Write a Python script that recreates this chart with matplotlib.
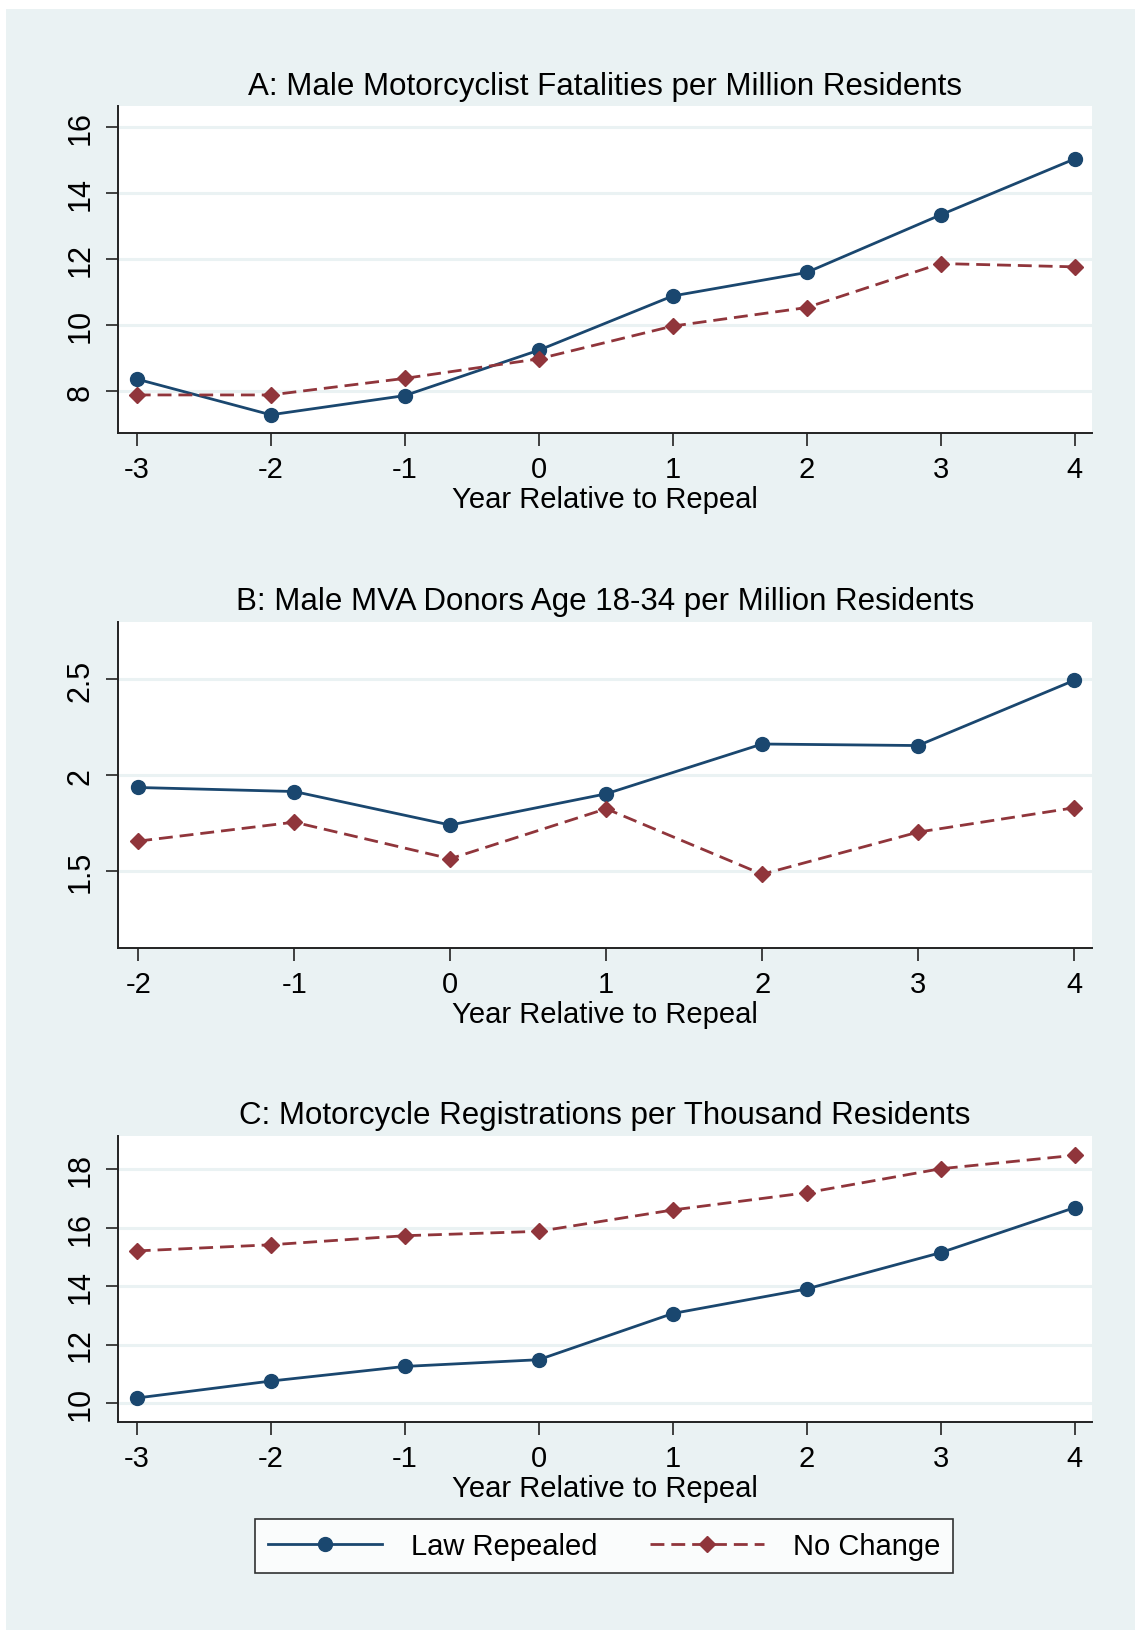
import matplotlib
matplotlib.use("Agg")
import matplotlib.pyplot as plt
from matplotlib.patches import Rectangle
from matplotlib.lines import Line2D

plt.rcParams['font.family'] = ['Liberation Sans', 'DejaVu Sans']

# ---- data ----
years_a = [-3, -2, -1, 0, 1, 2, 3, 4]
repealed_a = [8.37, 7.29, 7.87, 9.24, 10.88, 11.59, 13.33, 15.02]
nochange_a = [7.89, 7.89, 8.39, 8.98, 9.97, 10.53, 11.86, 11.76]

years_b = [-2, -1, 0, 1, 2, 3, 4]
repealed_b = [1.936, 1.915, 1.74, 1.903, 2.163, 2.155, 2.495]
nochange_b = [1.656, 1.755, 1.564, 1.825, 1.483, 1.703, 1.83]

years_c = [-3, -2, -1, 0, 1, 2, 3, 4]
repealed_c = [10.17, 10.75, 11.25, 11.48, 13.06, 13.90, 15.14, 16.68]
nochange_c = [15.20, 15.41, 15.72, 15.87, 16.60, 17.19, 18.01, 18.47]

titles = ["A: Male Motorcyclist Fatalities per Million Residents",
          "B: Male MVA Donors Age 18-34 per Million Residents",
          "C: Motorcycle Registrations per Thousand Residents"]
yticks_a = [8, 10, 12, 14, 16]
yticks_b = [1.5, 2, 2.5]
yticks_c = [10, 12, 14, 16, 18]
ytl_b = ["1.5", "2", "2.5"]
xlabel = "Year Relative to Repeal"
series_labels = ["Law Repealed", "No Change"]

NAVY = "#1a476f"
MAROON = "#90353b"
BG = "#eaf2f3"

W, H = 1135, 1631
fig = plt.figure(figsize=(W / 100, H / 100), dpi=100, facecolor="white")
fig.patches.append(Rectangle((6 / W, 0), 1 - 6 / W, 1 - 10 / H, transform=fig.transFigure,
                             facecolor=BG, edgecolor="none", zorder=-10))

def fr(left, top, right, bottom):
    return [left / W, 1 - bottom / H, (right - left) / W, (bottom - top) / H]

axes_rects = [fr(118, 107, 1092, 434), fr(118, 623, 1092, 949), fr(118, 1137, 1092, 1423)]
datasets = [
    (years_a, repealed_a, nochange_a, yticks_a, [str(t) for t in yticks_a], (6.74, 16.62), (-3.14, 4.13)),
    (years_b, repealed_b, nochange_b, yticks_b, ytl_b, (1.098, 2.80), (-2.13, 4.115)),
    (years_c, repealed_c, nochange_c, yticks_c, [str(t) for t in yticks_c], (9.35, 19.13), (-3.14, 4.13)),
]

FS_T = 22.5
FS = 21
LW = 2.0
DASH = (0, (5, 2.5))
for rect, title, (xs, rep, noc, yt, ytl, ylim, xlim) in zip(axes_rects, titles, datasets):
    ax = fig.add_axes(rect)
    ax.set_facecolor("white")
    ax.plot(xs, rep, color=NAVY, lw=LW, marker="o", ms=10, zorder=3)
    ax.plot(xs, noc, color=MAROON, lw=LW, ls=DASH, marker="D", ms=8.5, zorder=3)
    ax.set_xlim(*xlim)
    ax.set_ylim(*ylim)
    ax.set_xticks(xs)
    ax.set_xticklabels([str(x) for x in xs], fontsize=FS)
    ax.set_yticks(yt)
    ax.set_yticklabels(ytl, fontsize=22, rotation=90, va="center")
    ax.tick_params(axis="both", length=9, width=1.2, color="#222222", direction="out")
    ax.tick_params(axis="x", pad=7)
    ax.tick_params(axis="y", pad=7)
    for s in ["top", "right"]:
        ax.spines[s].set_visible(False)
    for s in ["left", "bottom"]:
        ax.spines[s].set_linewidth(1.4)
        ax.spines[s].set_color("#222222")
    ax.yaxis.grid(True, color=BG, lw=2.2, zorder=0)
    ax.set_axisbelow(True)
    ax.set_title(title, fontsize=FS_T, pad=9)
    ax.set_xlabel(xlabel, fontsize=FS, labelpad=1)

handles = [Line2D([], [], color=NAVY, lw=LW, marker="o", ms=10),
           Line2D([], [], color=MAROON, lw=LW, ls=DASH, marker="D", ms=8.5)]
leg = fig.legend(handles, series_labels, loc="center", ncol=2,
                 bbox_to_anchor=(604 / W, 1 - 1547 / H), fontsize=FS,
                 handlelength=3.9, handletextpad=1.0, columnspacing=1.8,
                 frameon=True, fancybox=False, borderpad=0.45, numpoints=1)
leg.get_frame().set_edgecolor("black")
leg.get_frame().set_linewidth(1.2)
leg.get_frame().set_facecolor("white")

fig.savefig("out.png", dpi=100, facecolor="white")
